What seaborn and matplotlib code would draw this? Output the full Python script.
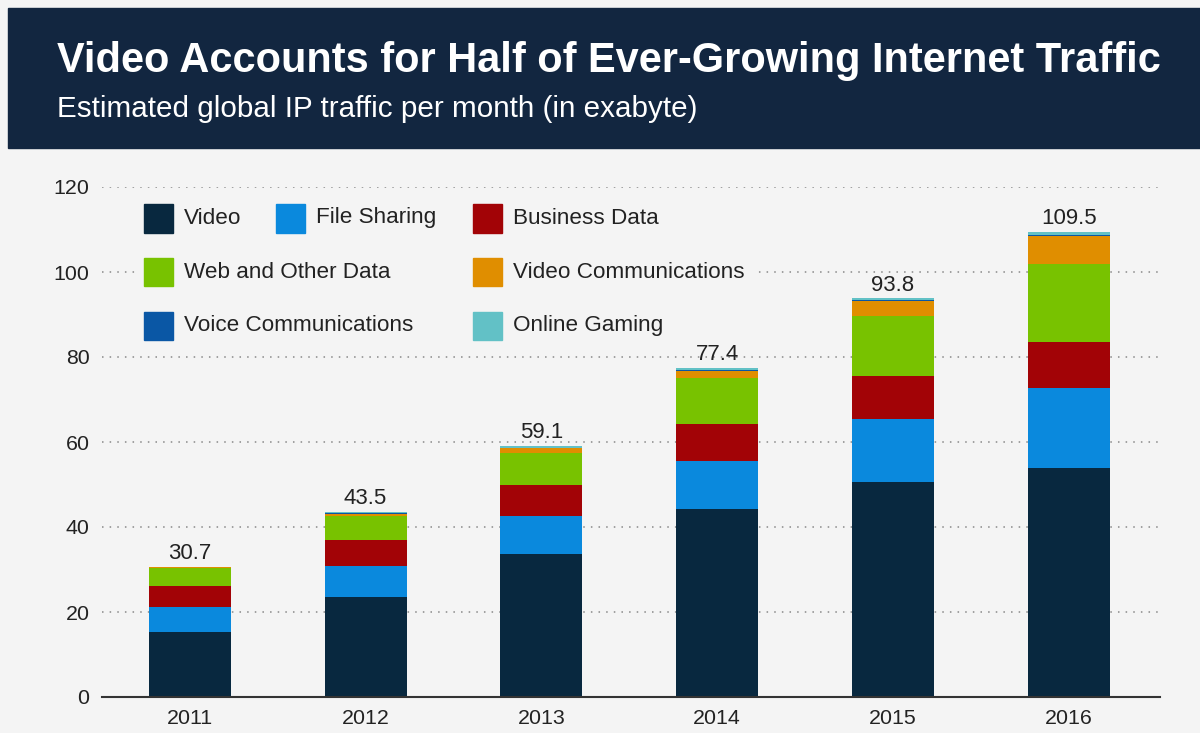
import numpy as np
import seaborn as sns
import matplotlib.pyplot as plt
from matplotlib.patches import Rectangle

years = ["2011", "2012", "2013", "2014", "2015", "2016"]
video = [15.4, 23.6, 33.6, 44.2, 50.7, 54.0]
file_sharing = [5.8, 7.3, 9.1, 11.4, 14.7, 18.8]
business = [5.0, 6.0, 7.2, 8.6, 10.1, 10.7]
web = [4.2, 5.8, 7.6, 10.8, 14.1, 18.4]
video_comm = [0.1, 0.4, 1.0, 1.7, 3.6, 6.6]
voice = [0.1, 0.2, 0.2, 0.3, 0.3, 0.3]
gaming = [0.1, 0.2, 0.4, 0.4, 0.3, 0.7]

series = [
    ("Video", video, "#08283f"),
    ("File Sharing", file_sharing, "#0a89dd"),
    ("Business Data", business, "#a20306"),
    ("Web and Other Data", web, "#78c200"),
    ("Video Communications", video_comm, "#e08e00"),
    ("Voice Communications", voice, "#0a57a5"),
    ("Online Gaming", gaming, "#62c1c6"),
]

bg = "#f4f4f4"
sns.set_theme(style="white")
plt.rcParams["font.family"] = ["Liberation Sans", "DejaVu Sans"]

W, H = 1200, 733
fig = plt.figure(figsize=(12, 7.33), dpi=100, facecolor=bg)
ax = fig.add_axes([102 / W, 1 - 697 / H, (1160 - 102) / W, 510 / H])
ax.set_facecolor(bg)

# header band
fig.add_artist(Rectangle((8 / W, 1 - 148 / H), 1, 140 / H, transform=fig.transFigure,
                         color="#122640", zorder=0))
fig.text(57 / W, 1 - 72 / H, "Video Accounts for Half of Ever-Growing Internet Traffic",
         color="white", fontsize=29.9, fontweight="bold", va="baseline", ha="left")
fig.text(57 / W, 1 - 117 / H, "Estimated global IP traffic per month (in exabyte)",
         color="white", fontsize=21.3, va="baseline", ha="left")

# stacked bars
bottom = np.zeros(len(years))
for name, vals, col in series:
    sns.barplot(x=years, y=vals, bottom=bottom, color=col, width=0.466,
                saturation=1, ax=ax, zorder=3, linewidth=0)
    bottom = bottom + np.array(vals)

for i, tot in enumerate(bottom):
    ax.annotate(f"{tot:.1f}", (i, tot), xytext=(0, 2), textcoords="offset points",
                ha="center", va="bottom", fontsize=16, color="#222222", zorder=6)

ax.set_xlim(-0.5, 5.52)
ax.set_ylim(0, 120)
ax.set_yticks([0, 20, 40, 60, 80, 100, 120])
ax.yaxis.grid(True, linestyle=(0, (1, 4)), color="#888888", linewidth=1.1)
ax.set_axisbelow(True)
for s in ["top", "right", "left"]:
    ax.spines[s].set_visible(False)
ax.spines["bottom"].set_color("#333333")
ax.spines["bottom"].set_linewidth(1.5)
ax.spines["bottom"].set_zorder(5)
ax.tick_params(axis="both", length=0, labelsize=15.4, labelcolor="#222222")
ax.tick_params(axis="y", pad=9)
ax.tick_params(axis="x", pad=9)
ax.set_xlabel("")
ax.set_ylabel("")

# legend (flow layout as in the original); background hides the gridlines behind it
ax.add_patch(Rectangle((135 / W, 1 - 339 / H), (754 - 135) / W, 144 / H,
                       transform=fig.transFigure, color=bg, zorder=1, clip_on=False))
legend_pos = [(144, 218), (276, 218), (473, 218), (144, 272), (473, 272), (144, 326), (473, 326)]
for (name, vals, col), (lx, ly) in zip(series, legend_pos):
    fig.add_artist(Rectangle((lx / W, 1 - (ly + 14.5) / H), 29 / W, 29 / H,
                             transform=fig.transFigure, color=col, zorder=3))
    fig.text((lx + 40) / W, 1 - ly / H, name, fontsize=16.2, color="#222222",
             va="center", ha="left", zorder=4)

fig.savefig("out.png", dpi=100, facecolor=bg)
